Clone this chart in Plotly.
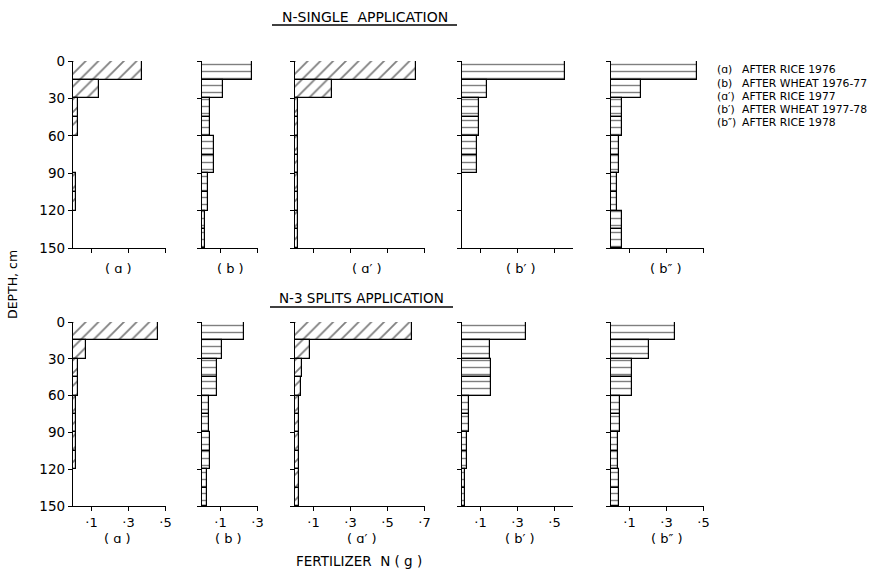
import plotly.graph_objects as go

W, H = 895, 570

# ---------------- data ----------------
layer_top = [0, 15, 30, 45, 60, 75, 90, 105, 120, 135]   # depth of layer top, cm
layer_thk = 15
depth_ticks = [0, 30, 60, 90, 120, 150]

panel_labels = ["( ɑ )", "( b )", "( ɑ′ )", "( b′ )", "( b″ )"]
panel_hatch = ["/", "-", "/", "-", "-"]

# N-single application
a_single  = [0.375, 0.142, 0.025, 0.028, 0.0, 0.0, 0.016, 0.016, 0.0, 0.0]
b_single  = [0.272, 0.112, 0.045, 0.045, 0.063, 0.063, 0.033, 0.033, 0.018, 0.018]
a1_single = [0.652, 0.200, 0.018, 0.018, 0.015, 0.015, 0.015, 0.015, 0.015, 0.015]
b1_single = [0.559, 0.135, 0.090, 0.090, 0.081, 0.081, 0.0, 0.0, 0.0, 0.0]
b2_single = [0.465, 0.162, 0.059, 0.059, 0.041, 0.041, 0.032, 0.032, 0.059, 0.059]

# N-3 splits application
a_split  = [0.458, 0.068, 0.029, 0.025, 0.016, 0.016, 0.016, 0.016, 0.0, 0.0]
b_split  = [0.229, 0.107, 0.079, 0.079, 0.036, 0.036, 0.045, 0.045, 0.027, 0.027]
a1_split = [0.632, 0.083, 0.036, 0.032, 0.022, 0.022, 0.022, 0.022, 0.022, 0.022]
b1_split = [0.348, 0.150, 0.159, 0.159, 0.036, 0.036, 0.027, 0.027, 0.018, 0.018]
b2_split = [0.346, 0.207, 0.112, 0.112, 0.049, 0.049, 0.036, 0.036, 0.041, 0.041]

x_max = [0.5, 0.3, 0.7, 0.6, 0.5]
x_tickvals = [[0.1, 0.3, 0.5], [0.1, 0.3], [0.1, 0.3, 0.5, 0.7], [0.1, 0.3, 0.5], [0.1, 0.3, 0.5]]
x_ticktext = [["·1", "·3", "·5"], ["·1", "·3"], ["·1", "·3", "·5", "·7"], ["·1", "·3", "·5"], ["·1", "·3", "·5"]]

legend_keys = ["(ɑ)", "(b)", "(ɑ′)", "(b′)", "(b″)"]
legend_text = ["AFTER RICE 1976", "AFTER WHEAT 1976-77", "AFTER RICE 1977",
               "AFTER WHEAT 1977-78", "AFTER RICE 1978"]

rows = [[a_single, b_single, a1_single, b1_single, b2_single],
        [a_split, b_split, a1_split, b1_split, b2_split]]

# ---------------- layout geometry (pixels) ----------------
panel_left = [73, 202, 295, 462, 611]
px_per_unit = 185.0
row_top = [61, 322]
row_bot = [248, 506]
label_x = [[118, 230, 367, 521, 666], [117, 228, 362, 520, 667]]
label_y = [268, 538]

def fx(p):
    return p / W

def fy(p):
    return 1 - p / H

depth_mid = [t + layer_thk / 2 for t in layer_top]
FONT = "DejaVu Sans"

fig = go.Figure()
layout = {}
k = 0
for r in range(2):
    for c in range(5):
        k += 1
        xa = "x" if k == 1 else f"x{k}"
        ya = "y" if k == 1 else f"y{k}"
        fig.add_trace(go.Bar(
            x=rows[r][c], y=depth_mid, width=[layer_thk] * len(depth_mid),
            orientation="h", xaxis=xa, yaxis=ya,
            marker=dict(color="white",
                        line=dict(color="black", width=1.2),
                        pattern=dict(shape=panel_hatch[c], fgcolor="black", bgcolor="white",
                                     size=9 if panel_hatch[c] == "/" else 7,
                                     solidity=0.2)),
            showlegend=False, hoverinfo="x+y"))
        x0 = panel_left[c]
        x1 = x0 + x_max[c] * px_per_unit
        layout["xaxis" if k == 1 else f"xaxis{k}"] = dict(
            domain=[fx(x0), fx(x1)], range=[0, x_max[c]], anchor=ya,
            showline=True, linecolor="black", linewidth=1.4, ticks="outside",
            ticklen=4, tickwidth=1.2, tickcolor="black",
            tickvals=x_tickvals[c], ticktext=x_ticktext[c],
            showticklabels=(r == 1), showgrid=False, zeroline=False,
            tickfont=dict(family=FONT, size=13, color="black"), fixedrange=True)
        layout["yaxis" if k == 1 else f"yaxis{k}"] = dict(
            domain=[fy(row_bot[r]), fy(row_top[r])], range=[150, 0], anchor=xa,
            showline=True, linecolor="black", linewidth=1.4, ticks="outside",
            ticklen=4, tickwidth=1.2, tickcolor="black", tickvals=depth_ticks,
            showticklabels=(c == 0), showgrid=False, zeroline=False,
            tickfont=dict(family=FONT, size=13.5, color="black"), fixedrange=True)

annotations = []
for r in range(2):
    for c in range(5):
        annotations.append(dict(x=fx(label_x[r][c]), y=fy(label_y[r]), xref="paper", yref="paper",
                                text=panel_labels[c], showarrow=False, xanchor="center", yanchor="middle",
                                font=dict(family=FONT, size=13, color="black")))

annotations += [
    dict(x=fx(365), y=fy(17), xref="paper", yref="paper", text="N-SINGLE  APPLICATION",
         showarrow=False, xanchor="center", yanchor="middle",
         font=dict(family=FONT, size=14, color="black")),
    dict(x=fx(361), y=fy(298), xref="paper", yref="paper", text="N-3 SPLITS APPLICATION",
         showarrow=False, xanchor="center", yanchor="middle",
         font=dict(family=FONT, size=13.5, color="black")),
    dict(x=fx(359), y=fy(561), xref="paper", yref="paper", text="FERTILIZER  N ( g )",
         showarrow=False, xanchor="center", yanchor="middle",
         font=dict(family=FONT, size=13.5, color="black")),
    dict(x=fx(12), y=fy(285), xref="paper", yref="paper", text="DEPTH, cm",
         showarrow=False, xanchor="center", yanchor="middle", textangle=-90,
         font=dict(family=FONT, size=12.5, color="black")),
]

leg_y = [70, 83.2, 96.4, 109.6, 122.8]
for i in range(5):
    annotations.append(dict(x=fx(716), y=fy(leg_y[i]), xref="paper", yref="paper", text=legend_keys[i],
                            showarrow=False, xanchor="left", yanchor="middle", borderpad=0,
                            font=dict(family=FONT, size=10.8, color="black")))
    annotations.append(dict(x=fx(741), y=fy(leg_y[i]), xref="paper", yref="paper", text=legend_text[i],
                            showarrow=False, xanchor="left", yanchor="middle", borderpad=0,
                            font=dict(family=FONT, size=10.8, color="black")))

shapes = [
    dict(type="line", xref="paper", yref="paper", x0=fx(272), x1=fx(457), y0=fy(25), y1=fy(25),
         line=dict(color="black", width=1.3)),
    dict(type="line", xref="paper", yref="paper", x0=fx(270), x1=fx(453), y0=fy(307), y1=fy(307),
         line=dict(color="black", width=1.3)),
]

fig.update_layout(
    width=W, height=H, autosize=False,
    margin=dict(l=0, r=0, t=0, b=0, pad=0, autoexpand=False),
    paper_bgcolor="white", plot_bgcolor="white",
    bargap=0, showlegend=False,
    annotations=annotations, shapes=shapes,
    **layout)

fig.write_html("out.html", config={"responsive": False, "displayModeBar": False},
               post_script="document.body.style.margin='0';document.body.style.padding='0';"
                           "document.body.style.overflow='hidden';")
